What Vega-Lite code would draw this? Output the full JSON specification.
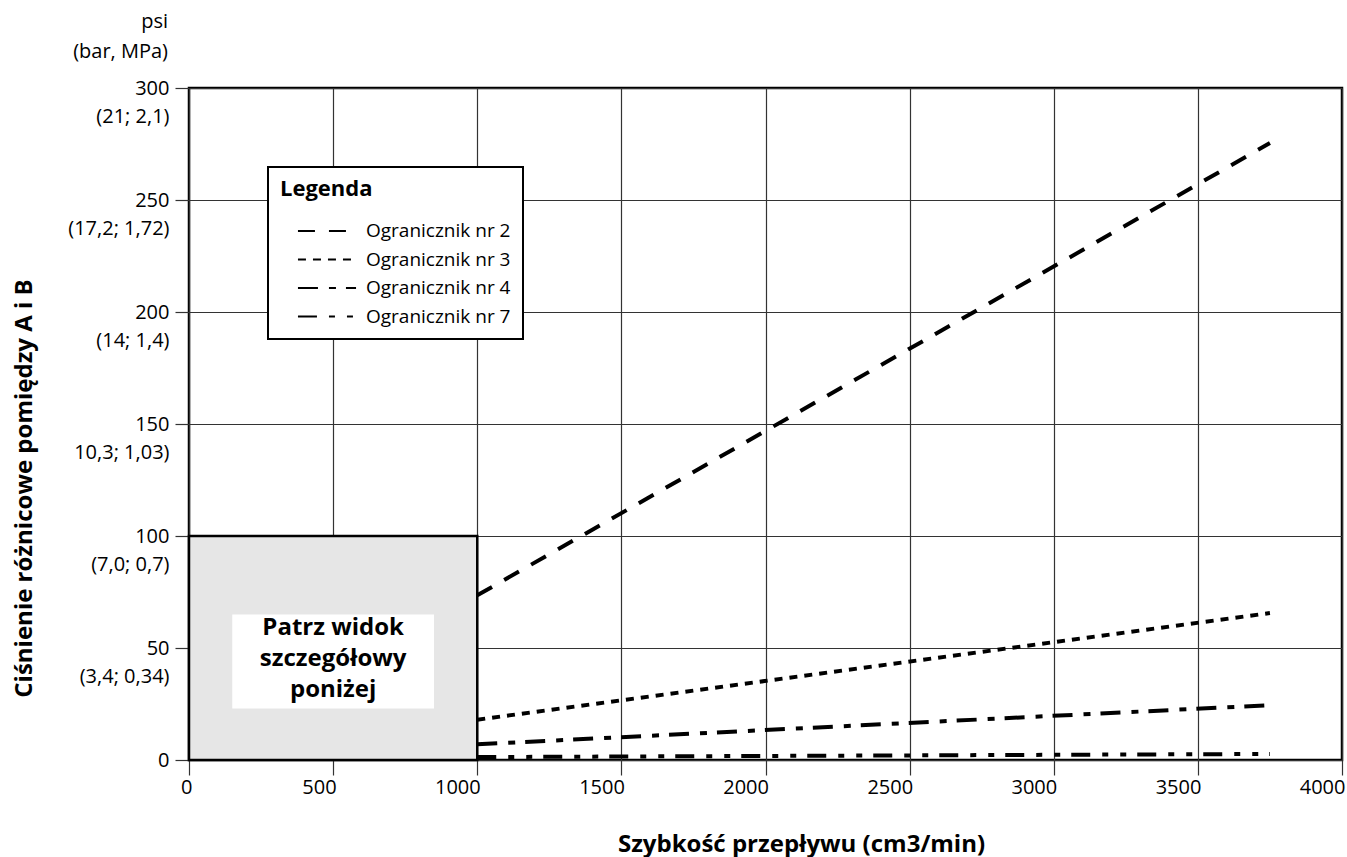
{
  "$schema": "https://vega.github.io/schema/vega-lite/v6.json",
  "width": 1153,
  "height": 672,
  "autosize": {"type": "none"},
  "padding": {"left": 189, "top": 88, "right": 5, "bottom": 97},
  "background": "white",
  "title": {
    "text": ["psi", "(bar, MPa)"],
    "anchor": "start",
    "frame": "group",
    "align": "right",
    "dx": -21,
    "offset": 16,
    "fontSize": 20,
    "fontWeight": "normal",
    "lineHeight": 30,
    "color": "black"
  },
  "config": {
    "font": "Open Sans",
    "view": {"stroke": "black", "strokeWidth": 2.5},
    "axis": {
      "gridColor": "#333333",
      "gridWidth": 1.2,
      "gridOpacity": 1,
      "tickColor": "#333333",
      "tickWidth": 1.2,
      "domain": false,
      "labelFontSize": 20,
      "labelColor": "black",
      "labelOverlap": false,
      "labelBound": false,
      "titleFontSize": 24,
      "titleFontWeight": "bold",
      "titleColor": "black"
    },
    "legend": {
      "orient": "top-left",
      "offset": 79,
      "padding": 12,
      "strokeColor": "black",
      "strokeWidth": 2,
      "fillColor": "white",
      "titleFontSize": 22,
      "titleFontWeight": "bold",
      "titleColor": "black",
      "titlePadding": 18,
      "labelFontSize": 19,
      "labelColor": "black",
      "symbolType": "M-2.64,0H2.64",
      "symbolSize": 484,
      "symbolStrokeWidth": 2,
      "symbolStrokeColor": "black",
      "symbolOffset": 35,
      "labelOffset": 27,
      "rowPadding": 6.5
    }
  },
  "layer": [
    {
      "data": {"values": [{"x": 0, "x2": 1000, "y": 0, "y2": 100}]},
      "mark": {"type": "rect", "fill": "#e6e6e6", "stroke": "black", "strokeWidth": 2.5},
      "encoding": {
        "x": {"field": "x", "type": "quantitative", "scale": {"domain": [0, 4000], "nice": false},
          "axis": {"values": [0, 500, 1000, 1500, 2000, 2500, 3000, 3500, 4000], "format": "d", "grid": true, "tickSize": 15, "labelPadding": 2, "labelAlign": "right", "labelOffset": 3,
            "title": "Szybkość przepływu (cm3/min)", "titleX": 612, "titleY": 84, "titleAlign": "center", "titleBaseline": "middle", "titleAnchor": null}},
        "x2": {"field": "x2"},
        "y": {"field": "y", "type": "quantitative", "scale": {"domain": [0, 300], "nice": false},
          "axis": {"values": [0, 50, 100, 150, 200, 250, 300], "grid": true, "tickSize": 14, "labelPadding": 6, "labelLineHeight": 28,
            "labelExpr": "datum.value == 300 ? ['300','(21; 2,1)'] : datum.value == 250 ? ['250','(17,2; 1,72)'] : datum.value == 200 ? ['200','(14; 1,4)'] : datum.value == 150 ? ['150','10,3; 1,03)'] : datum.value == 100 ? ['100','(7,0; 0,7)'] : datum.value == 50 ? ['50','(3,4; 0,34)'] : '0'",
            "title": "Ciśnienie różnicowe pomiędzy A i B", "titleX": -165, "titleY": 400, "titleAlign": "center", "titleBaseline": "middle", "titleAngle": -90, "titleAnchor": null}},
        "y2": {"field": "y2"}
      }
    },
    {
      "data": {"values": [{"x": 150, "x2": 850, "y": 23, "y2": 65}]},
      "mark": {"type": "rect", "fill": "white", "stroke": null},
      "encoding": {
        "x": {"field": "x", "type": "quantitative"},
        "x2": {"field": "x2"},
        "y": {"field": "y", "type": "quantitative"},
        "y2": {"field": "y2"}
      }
    },
    {
      "data": {"values": [{"x": 500, "y": 45}]},
      "mark": {"type": "text", "text": ["Patrz widok", "szczegółowy", "poniżej"], "fontSize": 24, "fontWeight": "bold", "lineHeight": 31, "align": "center", "baseline": "middle", "dy": -31, "color": "black"},
      "encoding": {
        "x": {"field": "x", "type": "quantitative"},
        "y": {"field": "y", "type": "quantitative"}
      }
    },
    {
      "data": {"values": [
        {"x": 1000, "y": 73.5, "series": "Ogranicznik nr 2"},
        {"x": 3750, "y": 275.4, "series": "Ogranicznik nr 2"},
        {"x": 1000, "y": 18, "series": "Ogranicznik nr 3"},
        {"x": 3750, "y": 65.6, "series": "Ogranicznik nr 3"},
        {"x": 1000, "y": 7, "series": "Ogranicznik nr 4"},
        {"x": 3750, "y": 24.5, "series": "Ogranicznik nr 4"},
        {"x": 1000, "y": 1.3, "series": "Ogranicznik nr 7"},
        {"x": 3750, "y": 2.7, "series": "Ogranicznik nr 7"}
      ]},
      "mark": {"type": "line", "color": "black", "strokeWidth": 4, "strokeCap": "butt"},
      "encoding": {
        "x": {"field": "x", "type": "quantitative"},
        "y": {"field": "y", "type": "quantitative"},
        "strokeDash": {
          "field": "series", "type": "nominal",
          "scale": {
            "domain": ["Ogranicznik nr 2", "Ogranicznik nr 3", "Ogranicznik nr 4", "Ogranicznik nr 7"],
            "range": [[17, 14], [8, 7], [20, 11, 7, 10], [19, 12, 6, 12, 6, 11]]
          },
          "legend": {"title": "Legenda"}
        }
      }
    }
  ]
}
